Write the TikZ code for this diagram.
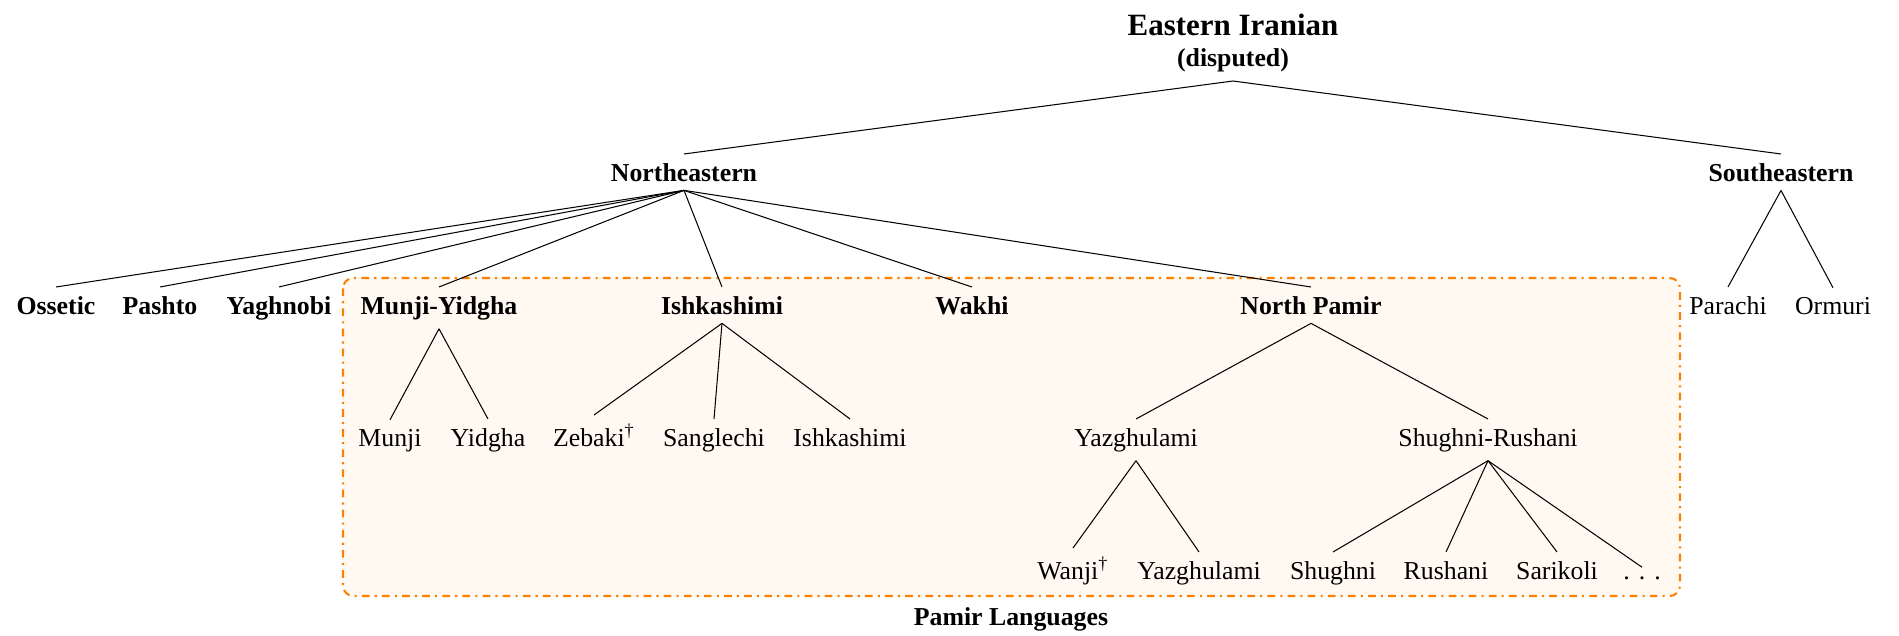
\documentclass[tikz,border=0pt]{standalone}
\usepackage{fontspec}
\setmainfont{Liberation Serif}
\begin{document}
\begin{tikzpicture}[x=0.3876pt,y=-0.3876pt,
    lang/.style={anchor=base},
    group/.style={anchor=base,font=\bfseries},
    pamirbox/.style={draw=orange,thick,dash dot,fill=orange!5,rounded corners=4pt}]

\useasboundingbox (0,0) rectangle (1899,635);

%draws the pamir box
\draw[pamirbox] (343,278) rectangle (1680,596);
\node[group] (pamir) at (1011,625) {Pamir Languages};

%top of tree
\node[anchor=south,align=center,font=\bfseries] (root) at (1233,81) {{\large Eastern Iranian}\\(disputed)};
\node[group] (ne) at (684,181) {Northeastern};
\node[group] (se) at (1781,181) {Southeastern};

%second row
\node[group] (ossetic) at (56,314) {Ossetic};
\node[group] (pashto) at (160,314) {Pashto};
\node[group] (yaghnobi) at (279,314) {Yaghnobi};
\node[group] (munjiyidgha) at (439,314) {Munji-Yidgha};
\node[group] (ishkashimi) at (722,314) {Ishkashimi};
\node[group] (wakhi) at (972,314) {Wakhi};
\node[group] (northpamir) at (1311,314) {North Pamir};
\node[lang] (parachi) at (1728,314) {Parachi};
\node[lang] (ormuri) at (1833,314) {Ormuri};

%third row
\node[lang] (munji) at (390,446) {Munji};
\node[lang] (yidgha) at (488,446) {Yidgha};
\node[lang] (zebaki) at (594,446) {Zebaki\textsuperscript{\textdagger}};
\node[lang] (sanglechi) at (714,446) {Sanglechi};
\node[lang] (ishk) at (850,446) {Ishkashimi};
\node[lang] (yazghulami) at (1136,446) {Yazghulami};
\node[lang] (shughrush) at (1488,446) {Shughni-Rushani};

%fourth row
\node[lang] (wanji) at (1073,579) {Wanji\textsuperscript{\textdagger}};
\node[lang] (yazgh) at (1199,579) {Yazghulami};
\node[lang] (shughni) at (1333,579) {Shughni};
\node[lang] (rushani) at (1446,579) {Rushani};
\node[lang] (sarikoli) at (1557,579) {Sarikoli};
\node[lang] (more) at (1642,579) {.\kern0.35em.\kern0.35em.};

%draw branches
\foreach \c in {ne,se}
    \draw (root.south) -- (\c.north);
\foreach \c in {ossetic,pashto,yaghnobi,munjiyidgha,ishkashimi,wakhi,northpamir}
    \draw (ne.south) -- (\c.north);
\foreach \c in {parachi,ormuri}
    \draw (se.south) -- (\c.north);
\foreach \c in {munji,yidgha}
    \draw (munjiyidgha.south) -- (\c.north);
\foreach \c in {zebaki,sanglechi,ishk}
    \draw (ishkashimi.south) -- (\c.north);
\foreach \c in {yazghulami,shughrush}
    \draw (northpamir.south) -- (\c.north);
\foreach \c in {wanji,yazgh}
    \draw (yazghulami.south) -- (\c.north);
\foreach \c in {shughni,rushani,sarikoli,more}
    \draw (shughrush.south) -- (\c.north);
\end{tikzpicture}
\end{document}
